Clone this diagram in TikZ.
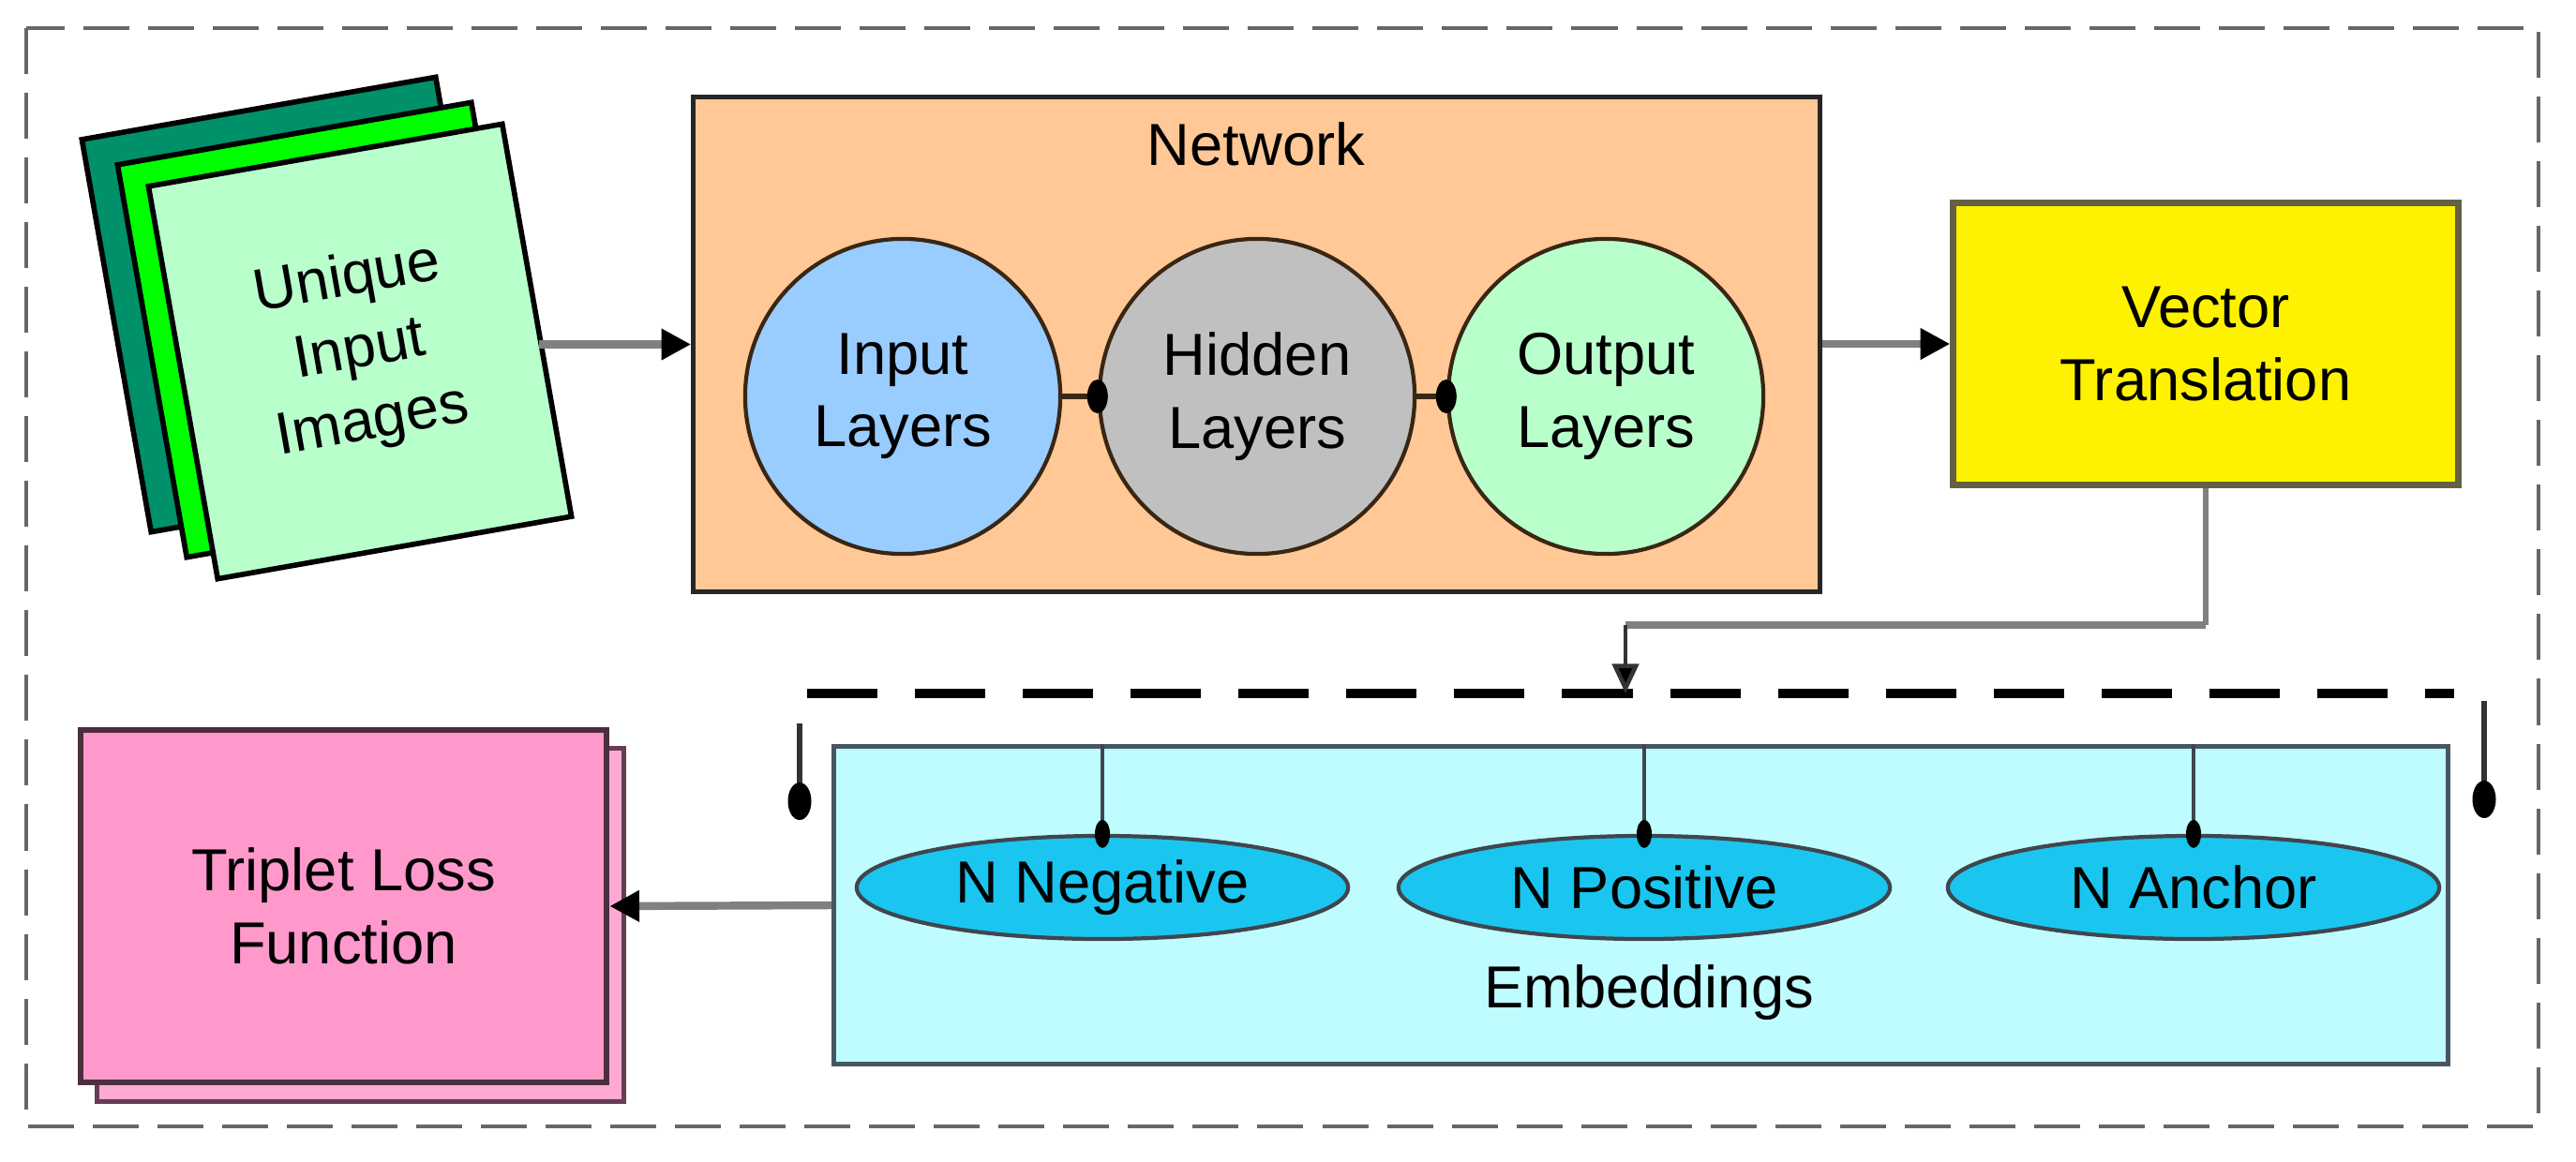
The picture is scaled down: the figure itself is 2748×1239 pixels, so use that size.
\documentclass[tikz,border=0pt]{standalone}
\usepackage{fontspec}
\setmainfont{Liberation Sans}
\usetikzlibrary{shapes.geometric,arrows.meta,calc}
\definecolor{pgback}{HTML}{00906A}
\definecolor{pgmid}{HTML}{00FF00}
\definecolor{pgfront}{HTML}{B8FFCC}
\definecolor{netc}{HTML}{FFC896}
\definecolor{inc}{HTML}{99CCFF}
\definecolor{hidc}{HTML}{C0C0C0}
\definecolor{outc}{HTML}{B8FFCC}
\definecolor{embc}{HTML}{BFFCFF}
\definecolor{ellc}{HTML}{1AC6F0}
\definecolor{tripc}{HTML}{FF99CC}
\definecolor{conn}{HTML}{808080}
\begin{document}
\begin{tikzpicture}[x=0.01cm,y=-0.01cm,
  every node/.style={font=\fontsize{18}{22}\selectfont},
  page/.style={draw=black,line width=1.6pt,minimum width=3.83cm,minimum height=4.25cm,rotate=10,inner sep=0},
  box/.style={draw=black!85,line width=1.4pt,inner sep=0},
  layer/.style={circle,draw=black!70!brown,line width=1.2pt,minimum size=3.36cm,inner sep=0,align=center},
  emb/.style={ellipse,draw=black!80!cyan,line width=1.2pt,fill=ellc,minimum width=5.24cm,minimum height=1.1cm,inner sep=0},
  arr/.style={draw=conn,line width=2.4pt,-{Triangle[length=9pt,width=9pt,fill=black,color=black]}},
  dot/.style={ellipse,fill=black,minimum width=0.22cm,minimum height=0.36cm,inner sep=0},
  thin/.style={draw=black!80,line width=1.3pt}]
\useasboundingbox (0,0) rectangle (2748,1239);
% outer border
\draw[conn!80!black,line width=1.3pt,dash pattern=on 0.49cm off 0.2cm] (28,30) rectangle (2708,1202);
% stack of images
\node[page,fill=pgback] (p3) at (313,325) {};
\node[page,fill=pgmid] (p2) at (351,352) {};
\node[page,fill=pgfront,align=center] (front) at (384,375) {Unique\\Input\\Images};
% network
\node[box,fill=netc,minimum width=12.01cm,minimum height=5.27cm] (net) at (1340.5,367.5) {};
\node (nettitle) at (1340,154) {Network};
\node[layer,fill=inc] (in) at (963,423) {Input\\Layers};
\node[layer,fill=hidc] (hid) at (1341,423) {Hidden\\Layers};
\node[layer,fill=outc] (out) at (1713,423) {Output\\Layers};
\draw[line width=1.6pt,black!70!brown] (in.east) -- (hid.west) node[dot,pos=1] (d1) {};
\draw[line width=1.6pt,black!70!brown] (hid.east) -- (out.west) node[dot,pos=1] (d2) {};
% vector
\node[box,draw=black!50!yellow!60!black,line width=2pt,fill=yellow,minimum width=5.38cm,minimum height=3.0cm,align=center] (vec) at (2353,367) {Vector\\Translation};
% embeddings
\node[box,draw=black!70!cyan,fill=embc,minimum width=17.21cm,minimum height=3.38cm] (embbox) at (1750.5,966) {};
\node (emblabel) at (1759,1059) {Embeddings};
\node[emb] (neg) at (1176,947) {N Negative};
\node[emb] (pos) at (1754,947) {N Positive};
\node[emb] (anc) at (2340,947) {N Anchor};
\foreach \e in {neg,pos,anc}{
  \draw[line width=1.4pt,black!80!cyan] (embbox.north -| \e.north) -- (\e.north) node[dot,pos=1,minimum width=0.16cm,minimum height=0.3cm] {};
}
% triplet
\node[box,draw=black!60!tripc,fill=tripc!85!white,minimum width=5.61cm,minimum height=3.76cm] (tripshadow) at (384.5,987) {};
\node[box,draw=black!70!tripc,line width=1.8pt,fill=tripc,minimum width=5.61cm,minimum height=3.76cm,align=center] (trip) at (366.5,967) {Triplet Loss\\Function};
% bus
\coordinate (busL) at (861,740);
\coordinate (busR) at (2618,740);
\coordinate (busin) at (1734,740);
\coordinate (bend) at (1734,667);
\draw[black,line width=2.9pt,dash pattern=on 0.75cm off 0.4cm] (busL) -- (busR);
\coordinate (tickL) at (853,772);
\coordinate (tickR) at (2650,748);
\draw[thin,line width=1.8pt] (tickL) -- (853,855) node[dot,pos=1,minimum width=0.25cm,minimum height=0.4cm] (dotL) {};
\draw[thin,line width=1.8pt] (tickR) -- (2650,853) node[dot,pos=1,minimum width=0.25cm,minimum height=0.4cm] (dotR) {};
% connectors
\draw[arr] (front.east |- net.west) -- (net.west);
\draw[arr] (net.east |- vec.west) -- (vec.west);
\draw[conn,line width=1.6pt] (vec.south) -- (vec.south |- bend);
\draw[arr,-] (vec.south |- bend) -- (bend);
\draw[thin,-{Triangle[length=9pt,width=8pt,fill=black]}] (bend) -- (busin);
\draw[arr] (embbox.west) -- (trip.east);
\end{tikzpicture}
\end{document}
